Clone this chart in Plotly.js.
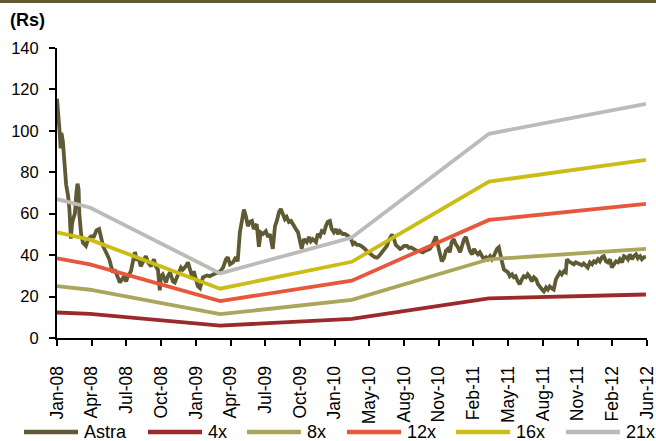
<!DOCTYPE html>
<html>
<head>
<meta charset="utf-8">
<script src="https://cdn.plot.ly/plotly-3.0.1.min.js"></script>
<style>
html,body{margin:0;padding:0;background:#fff;}
#chart{width:656px;height:441px;}
</style>
</head>
<body>
<div id="chart"></div>
<script>
// ---- Data ----
const astraDates = [
'2008-01-01','2008-01-05','2008-01-08','2008-01-11','2008-01-13','2008-01-17','2008-01-21','2008-01-26','2008-01-31','2008-02-04',
'2008-02-08','2008-02-11','2008-02-15','2008-02-19','2008-02-23','2008-02-26','2008-02-29','2008-03-02','2008-03-07','2008-03-12',
'2008-03-20','2008-03-26','2008-04-03','2008-04-11','2008-04-18','2008-04-25','2008-04-30','2008-05-06','2008-05-14','2008-05-23',
'2008-05-28','2008-06-02','2008-06-07','2008-06-13','2008-06-21','2008-06-27','2008-07-02','2008-07-08','2008-07-13','2008-07-21',
'2008-07-27','2008-08-01','2008-08-06','2008-08-12','2008-08-17','2008-08-25','2008-08-31','2008-09-06','2008-09-14','2008-09-22',
'2008-09-27','2008-10-03','2008-10-08','2008-10-11','2008-10-16','2008-10-25','2008-10-30','2008-11-05','2008-11-13','2008-11-18',
'2008-11-26','2008-12-05','2008-12-10','2008-12-18','2008-12-24','2008-12-29','2009-01-04','2009-01-09','2009-01-15','2009-01-20',
'2009-01-26','2009-02-03','2009-02-14','2009-02-22','2009-03-03','2009-03-14','2009-03-22','2009-03-30','2009-04-07','2009-04-12',
'2009-04-18','2009-04-26','2009-05-04','2009-05-09','2009-05-15','2009-05-20','2009-05-26','2009-05-31','2009-06-06','2009-06-11',
'2009-06-17','2009-06-22','2009-06-30','2009-07-06','2009-07-11','2009-07-17','2009-07-25','2009-07-31','2009-08-05','2009-08-13',
'2009-08-19','2009-08-24','2009-08-30','2009-09-04','2009-09-09','2009-09-15','2009-09-20','2009-09-26','2009-10-02','2009-10-10',
'2009-10-15','2009-10-21','2009-10-26','2009-10-31','2009-11-06','2009-11-14','2009-11-20','2009-11-25','2009-11-30','2009-12-09',
'2009-12-14','2009-12-20','2009-12-25','2009-12-31','2010-01-05','2010-01-10','2010-01-16','2010-01-21','2010-01-27','2010-02-02',
'2010-02-07','2010-02-12','2010-02-20','2010-02-26','2010-03-07','2010-03-15','2010-03-20','2010-03-25','2010-03-31','2010-04-06',
'2010-04-11','2010-04-16','2010-04-22','2010-04-27','2010-05-03','2010-05-08','2010-05-14','2010-05-19','2010-05-25','2010-05-30',
'2010-06-05','2010-06-10','2010-06-15','2010-06-21','2010-06-26','2010-07-05','2010-07-10','2010-07-15','2010-07-21','2010-07-27',
'2010-08-01','2010-08-07','2010-08-15','2010-08-20','2010-08-26','2010-08-31','2010-09-06','2010-09-11','2010-09-17','2010-09-22',
'2010-09-27','2010-10-03','2010-10-08','2010-10-16','2010-10-22','2010-10-27','2010-11-02','2010-11-07','2010-11-13','2010-11-18',
'2010-11-24','2010-11-29','2010-12-05','2010-12-10','2010-12-15','2010-12-21','2010-12-26','2011-01-01','2011-01-07','2011-01-12',
'2011-01-18','2011-01-23','2011-01-29','2011-02-03','2011-02-09','2011-02-14','2011-02-20','2011-02-25','2011-03-02','2011-03-08',
'2011-03-13','2011-03-19','2011-03-24','2011-03-30','2011-04-04','2011-04-09','2011-04-18','2011-04-23','2011-04-26','2011-05-02',
'2011-05-07','2011-05-12','2011-05-18','2011-05-23','2011-05-29','2011-06-03','2011-06-08','2011-06-14','2011-06-19','2011-06-25',
'2011-06-30','2011-07-06','2011-07-11','2011-07-17','2011-07-22','2011-07-28','2011-08-03','2011-08-08','2011-08-13','2011-08-19',
'2011-08-24','2011-08-30','2011-09-04','2011-09-09','2011-09-15','2011-09-20','2011-09-26','2011-10-02','2011-10-07','2011-10-12',
'2011-10-18','2011-10-23','2011-10-26','2011-10-31','2011-11-06','2011-11-14','2011-11-19','2011-11-25','2011-11-30','2011-12-06',
'2011-12-11','2011-12-17','2011-12-22','2011-12-28','2012-01-03','2012-01-08','2012-01-13','2012-01-19','2012-01-24','2012-01-30',
'2012-02-04','2012-02-10','2012-02-15','2012-02-21','2012-02-26','2012-03-03','2012-03-08','2012-03-14','2012-03-19','2012-03-25',
'2012-03-30','2012-04-05','2012-04-10','2012-04-15','2012-04-21','2012-04-26','2012-05-02','2012-05-07','2012-05-13','2012-05-18',
'2012-05-24','2012-05-29'
];
const astraValues = [
115.5,108,100,91.5,99,95,82,74,69,62,
48,55,58,60,70,74.5,72,60,50,46,
44.5,47.7,49,49,52,52.6,49,44.3,41.4,38,
34.6,31.7,33,29.8,26.8,28.3,29.8,27.3,29.8,32.2,
36.5,41.5,38,38,34.6,38,39.5,36.5,34.6,38,
34.6,33,23,29.8,30.7,26.8,29.8,31.7,27.3,26.8,
29.8,34,33,34.6,36.5,33,29.8,32.2,28.3,25,
24,29.3,30.2,29.8,30.7,31.7,32.2,34,38,39,
35.6,36.5,39,37,51,56,62,59,54,56,
56.5,52.6,55,44,51,50.2,51.6,48.7,50.2,43,
54,56.5,60.8,62.3,60,57.4,58.4,56,56.5,53.5,
52.6,51,46.7,43,47.7,46.3,48.7,46.7,47.7,46.3,
50.2,49.2,51.6,51,54,56,56.5,52.6,51,52.6,
50.2,51.6,50.2,50.2,49.2,47.7,45.3,46,45,45,
44.5,44,43,42,41,40,39.6,39,38.8,39.5,
41,42,43.5,44.5,47,50,48,45,44,43,
43.5,44.5,44.5,43.5,43.7,43,42.5,42,42,41.5,
41.3,42,42.5,43,44.5,47,49,45,41,37,
38.5,42,43,41.4,46.3,47.7,45.3,43.8,41.4,43.8,
47.7,48.7,45.3,41.9,40.4,43,41.4,40.4,41.4,39.5,
38,39,38,39.5,38,39.5,43,43.8,40.4,36.5,
33,32.2,31.7,29.8,30.7,29.3,29.8,27.3,25.9,28.3,
29.8,29.3,30.7,29.3,27.3,29.3,28.3,25.9,24.4,23.4,
22.5,24.4,23.4,24.9,23.9,23.4,28.3,29.8,31.7,30.7,
32.2,31.7,38,37,36.5,35.6,36.5,36,35.6,35.1,
36,34.6,34,36.5,35.6,37,36.5,38,37,39,
39.5,37,36.5,38,34,35.6,37,36.5,38,36.5,
39.5,39,38,40.4,38,39.5,40.4,38.5,39.5,38,
39,39
];

const bandDates = ['2008-01-01','2008-03-31','2009-03-22','2010-03-17','2011-03-27','2012-05-29'];
const band4x  = [12.3, 11.6, 6.0, 9.2, 19.1, 21.0];
const band8x  = [25.0, 23.3, 11.5, 18.4, 38.0, 43.0];
const band12x = [38.5, 35.5, 17.8, 27.7, 57.0, 64.7];
const band16x = [51.0, 47.5, 23.8, 36.8, 75.5, 86.0];
const band21x = [67.0, 63.0, 31.2, 48.5, 98.6, 113.0];

const seriesNames = ['Astra','4x','8x','12x','16x','21x'];
const tickLabels = ['Jan-08','Apr-08','Jul-08','Oct-08','Jan-09','Apr-09','Jul-09','Oct-09','Jan-10',
                    'May-10','Aug-10','Nov-10','Feb-11','May-11','Aug-11','Nov-11','Feb-12','Jun-12'];
const yTicks = [0,20,40,60,80,100,120,140];
const axisStart = '2008-01-01';
const axisEnd = '2012-06-01';

// ---- Styles ----
const colors = ['#5f5a34','#9a2a2b','#aba65c','#e8573b','#cbbd15','#bdbbb9'];
const FONT = 'Liberation Sans, Arial, Helvetica, sans-serif';
const W = 656, H = 441, M = {l: 57, r: 9, t: 48, b: 103};
const PW = W - M.l - M.r, PH = H - M.t - M.b;
const px2paperX = px => (px - M.l) / PW;
const px2paperY = py => 1 - (py - M.t) / PH;

// evenly spaced category-style tick positions between axis start and end
const t0 = new Date(axisStart + 'T00:00:00Z').getTime();
const t1 = new Date(axisEnd + 'T00:00:00Z').getTime();
const tickVals = tickLabels.map((_, i) => t0 + (t1 - t0) * i / (tickLabels.length - 1));

const bands = [band4x, band8x, band12x, band16x, band21x];
const traces = [{
  x: astraDates, y: astraValues, name: seriesNames[0], type: 'scatter', mode: 'lines',
  line: {color: colors[0], width: 3.8}, showlegend: false
}];
bands.forEach((b, i) => traces.push({
  x: bandDates, y: b, name: seriesNames[i+1], type: 'scatter', mode: 'lines',
  line: {color: colors[i+1], width: 3.8}, showlegend: false
}));

// custom legend (long line samples as in the original)
const legendStarts = [24, 148, 247, 347, 456, 566];
const legendLen = 54, legendY = 432;
const shapes = [{
  type: 'rect', xref: 'paper', yref: 'paper',
  x0: px2paperX(0), x1: px2paperX(W), y0: px2paperY(3), y1: px2paperY(0),
  fillcolor: '#5f5a34', line: {width: 0}
}];
const annotations = [{
  text: '<b>(Rs)</b>', xref: 'paper', yref: 'paper', x: px2paperX(8), y: px2paperY(20),
  xanchor: 'left', yanchor: 'middle', showarrow: false,
  font: {family: FONT, size: 18, color: '#000'}
}];
seriesNames.forEach((n, i) => {
  const s = legendStarts[i];
  shapes.push({
    type: 'line', xref: 'paper', yref: 'paper',
    x0: px2paperX(s), x1: px2paperX(s + legendLen), y0: px2paperY(legendY), y1: px2paperY(legendY),
    line: {color: colors[i], width: 4.5}
  });
  annotations.push({
    text: n, xref: 'paper', yref: 'paper', x: px2paperX(s + legendLen + 4), y: px2paperY(legendY),
    xanchor: 'left', yanchor: 'middle', showarrow: false,
    font: {family: FONT, size: 18, color: '#000'}
  });
});

const layout = {
  width: W, height: H,
  margin: M,
  paper_bgcolor: '#ffffff', plot_bgcolor: '#ffffff',
  font: {family: FONT, color: '#000', size: 17},
  showlegend: false,
  xaxis: {
    type: 'date', range: [t0, t1 + 3600000],
    tickmode: 'array', tickvals: tickVals, ticktext: tickLabels,
    tickangle: -90, ticks: 'outside', ticklen: 6, tickwidth: 2, tickcolor: '#000',
    ticklabelstandoff: 13, ticklabeloverflow: 'allow',
    showline: true, linecolor: '#000', linewidth: 2, showgrid: false, zeroline: false,
    tickfont: {family: FONT, size: 17.5, color: '#000'}
  },
  yaxis: {
    range: [0, 140], tickmode: 'array', tickvals: yTicks,
    ticks: 'outside', ticklen: 6, tickwidth: 2, tickcolor: '#000',
    ticklabelstandoff: 7,
    showline: true, linecolor: '#000', linewidth: 2, showgrid: false, zeroline: false,
    tickfont: {family: FONT, size: 16.5, color: '#000'}
  },
  shapes: shapes,
  annotations: annotations
};

Plotly.newPlot('chart', traces, layout, {staticPlot: true, displayModeBar: false});
</script>
</body>
</html>
